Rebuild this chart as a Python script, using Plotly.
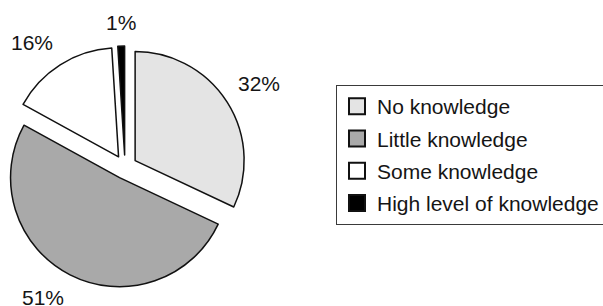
import math
import plotly.graph_objects as go

categories = ["No knowledge", "Little knowledge", "Some knowledge", "High level of knowledge"]
values = [32, 51, 16, 1]
label_text = ["32%", "51%", "16%", "1%"]
colors = ["#e4e4e4", "#a9a9a9", "#ffffff", "#000000"]
pulls = [0.11, 0.11, 0.11, 0.11]

W, H = 603, 306
FONT = "Liberation Sans, Arial, sans-serif"
TXT = "#151515"
dom_x = [0.00663, 0.40796]
dom_y = [0.0588, 0.8497]

fig = go.Figure()
fig.add_trace(go.Pie(
    labels=categories,
    values=values,
    textinfo="none",
    sort=False,
    direction="clockwise",
    rotation=0,
    pull=pulls,
    marker=dict(colors=colors, line=dict(color="#111111", width=1.5)),
    domain=dict(x=dom_x, y=dom_y),
    showlegend=False,
    hoverinfo="label+percent",
))

# legend entries (same categories / colours as the pie)
for i, (cat, col) in enumerate(zip(categories, colors)):
    fig.add_trace(go.Scatter(
        x=[None], y=[None], mode="markers", name=cat,
        legendgroup=f"g{i}",
        marker=dict(symbol="square", size=16, color=col,
                    line=dict(color="#111111", width=2)),
        showlegend=True, hoverinfo="skip",
    ))

# percentage labels placed just outside each slice, derived from the values
box_w = (dom_x[1] - dom_x[0]) * W
box_h = (dom_y[1] - dom_y[0]) * H
cx = (dom_x[0] + dom_x[1]) / 2 * W
cy = (1 - (dom_y[0] + dom_y[1]) / 2) * H
r = min(box_w, box_h) / 2 / (1 + max(pulls))
total = sum(values)
cum = 0.0
annotations = []
for v, t, p in zip(values, label_text, pulls):
    mid = (cum + v / 2) / total * 2 * math.pi
    cum += v
    s, c = math.sin(mid), math.cos(mid)
    dist = r * (1 + p) + 10
    px = cx + dist * s
    py = cy - dist * c
    xa = "center" if abs(s) < 0.2 else ("left" if s > 0 else "right")
    ya = "middle" if abs(c) < 0.2 else ("bottom" if c > 0 else "top")
    annotations.append(dict(
        x=px / W, y=1 - py / H, xref="paper", yref="paper",
        text=t, showarrow=False, xanchor=xa, yanchor=ya,
        font=dict(family=FONT, size=21, color=TXT),
    ))

fig.update_layout(
    width=W, height=H,
    margin=dict(l=0, r=0, t=0, b=0, autoexpand=False),
    paper_bgcolor="white",
    plot_bgcolor="white",
    font=dict(family=FONT, size=21, color=TXT),
    xaxis=dict(visible=False),
    yaxis=dict(visible=False),
    annotations=annotations,
    showlegend=True,
    legend=dict(
        x=336 / W, xanchor="left",
        y=1 - 85 / H, yanchor="top",
        bordercolor="#3a3a3a", borderwidth=1,
        bgcolor="white",
        tracegroupgap=2,
        itemclick=False, itemdoubleclick=False,
        font=dict(family=FONT, size=21, color=TXT),
    ),
)

fig.write_html("out.html", config={"displayModeBar": False},
               post_script="document.body.style.margin='0';")
